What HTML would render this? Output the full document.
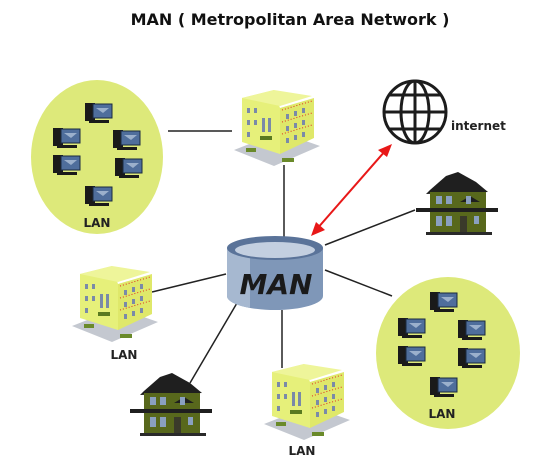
<!DOCTYPE html>
<html><head><style>body{margin:0;background:#fff}svg{display:block}</style></head><body>
<svg width="550" height="463" viewBox="0 0 550 463" xmlns="http://www.w3.org/2000/svg" font-family="DejaVu Sans, Liberation Sans, sans-serif">
<defs>
<g id="pc"><rect x="0" y="0" width="10" height="18" fill="#1a1a1a"/><rect x="8" y="1" width="19" height="14" fill="#4f6e9c" stroke="#1a2a40" stroke-width="1"/><path d="M11 5 L24 5 L18 10Z" fill="#9bb0cc"/><rect x="4" y="17" width="20" height="3" fill="#1a1a1a"/></g>
<g id="bld"><path d="M0 62 L40 78 L86 58 L46 44Z" fill="#c4c8d0"/><path d="M8 10 L40 2 L46 20 L46 66 L8 54Z" fill="#e6f07a"/><path d="M46 20 L80 10 L80 50 L46 66Z" fill="#dfe86a"/><path d="M8 10 L40 2 L78 8 L46 18Z" fill="#eef59a"/>
<g fill="#7a8aa8"><rect x="13" y="20" width="3" height="5"/><rect x="20" y="20" width="3" height="5"/><rect x="13" y="32" width="3" height="5"/><rect x="20" y="32" width="3" height="5"/><rect x="13" y="44" width="3" height="5"/><rect x="28" y="30" width="3" height="14"/><rect x="34" y="30" width="3" height="14"/><rect x="52" y="26" width="3" height="5"/><rect x="60" y="23" width="3" height="5"/><rect x="68" y="20" width="3" height="5"/><rect x="52" y="38" width="3" height="5"/><rect x="60" y="35" width="3" height="5"/><rect x="68" y="32" width="3" height="5"/><rect x="52" y="50" width="3" height="5"/><rect x="60" y="47" width="3" height="5"/><rect x="68" y="44" width="3" height="5"/></g>
<path d="M48 22 L78 13 M48 34 L78 25 M48 46 L78 37" stroke="#e03020" stroke-width="1" stroke-dasharray="1 2"/><rect x="26" y="48" width="12" height="4" fill="#5a7a20"/><rect x="12" y="60" width="10" height="4" fill="#6a8a2a"/><rect x="48" y="70" width="12" height="4" fill="#6a8a2a"/></g>
<g id="house"><path d="M14 18 L30 4 L42 0 L60 10 L72 20 L10 22Z" fill="#1f1f1f"/><rect x="14" y="20" width="56" height="42" fill="#58681c"/><rect x="0" y="36" width="82" height="4" fill="#1f1f1f"/><path d="M44 30 L54 24 L64 30Z" fill="#1f1f1f"/><g fill="#8aa0c0"><rect x="20" y="24" width="6" height="8"/><rect x="30" y="24" width="6" height="8"/><rect x="50" y="24" width="5" height="8"/><rect x="20" y="44" width="6" height="10"/><rect x="30" y="44" width="6" height="10"/><rect x="58" y="44" width="5" height="8"/></g><rect x="44" y="44" width="7" height="16" fill="#3a3a2a"/><rect x="10" y="60" width="66" height="3" fill="#2a2a2a"/></g>
</defs>
<text x="290" y="25" text-anchor="middle" font-size="16" font-weight="bold" fill="#111">MAN ( Metropolitan Area Network )</text>
<g stroke="#222" stroke-width="1.5" fill="none">
<line x1="168" y1="131" x2="232" y2="131"/><line x1="284" y1="165" x2="284" y2="237"/>
<line x1="325" y1="245" x2="415" y2="210"/><line x1="325" y1="270" x2="392" y2="296"/>
<line x1="152" y1="292" x2="226" y2="274"/><line x1="237" y1="303" x2="190" y2="383"/>
<line x1="282" y1="310" x2="282" y2="368"/>
</g>
<ellipse cx="97" cy="157" rx="66" ry="77" fill="#dde97a"/>
<ellipse cx="448" cy="353" rx="72" ry="76" fill="#dde97a"/>
<use href="#pc" x="85" y="103"/><use href="#pc" x="53" y="128"/><use href="#pc" x="113" y="130"/><use href="#pc" x="53" y="155"/><use href="#pc" x="115" y="158"/><use href="#pc" x="85" y="186"/>
<text x="97" y="227" text-anchor="middle" font-size="12" font-weight="bold" fill="#222">LAN</text>
<use href="#pc" x="430" y="292"/><use href="#pc" x="398" y="318"/><use href="#pc" x="458" y="320"/><use href="#pc" x="398" y="346"/><use href="#pc" x="458" y="348"/><use href="#pc" x="430" y="377"/>
<text x="442" y="418" text-anchor="middle" font-size="12" font-weight="bold" fill="#222">LAN</text>
<use href="#bld" x="234" y="88"/><use href="#bld" x="72" y="264"/><use href="#bld" x="264" y="362"/>
<text x="124" y="359" text-anchor="middle" font-size="12" font-weight="bold" fill="#222">LAN</text>
<text x="302" y="455" text-anchor="middle" font-size="12" font-weight="bold" fill="#222">LAN</text>
<use href="#house" x="416" y="172"/><use href="#house" x="130" y="373"/>
<g stroke="#1c1c1c" stroke-width="3" fill="none"><circle cx="415" cy="112" r="31"/><ellipse cx="415" cy="112" rx="14" ry="31"/><line x1="415" y1="81" x2="415" y2="143"/><line x1="384" y1="112" x2="446" y2="112"/><path d="M390 95 H440 M390 129 H440"/></g>
<text x="451" y="130" font-size="12" font-weight="bold" fill="#222">internet</text>
<line x1="386" y1="150" x2="316" y2="230" stroke="#e81818" stroke-width="2"/>
<path d="M392 144 L378 150 L387 157Z M311 236 L325 230 L316 222Z" fill="#e81818"/>
<path d="M227 248 V296 A48 14 0 0 0 323 296 V248Z" fill="#7f97b8"/>
<path d="M227 248 V296 A48 14 0 0 0 250 308 V258Z" fill="#a6b8d0"/>
<ellipse cx="275" cy="248" rx="48" ry="12" fill="#5a7399"/>
<ellipse cx="275" cy="250" rx="40" ry="8" fill="#c3cfe0"/>
<text x="276" y="294" text-anchor="middle" font-size="28" font-weight="bold" font-style="italic" fill="#1a1a1a">MAN</text>
</svg>
</body></html>
